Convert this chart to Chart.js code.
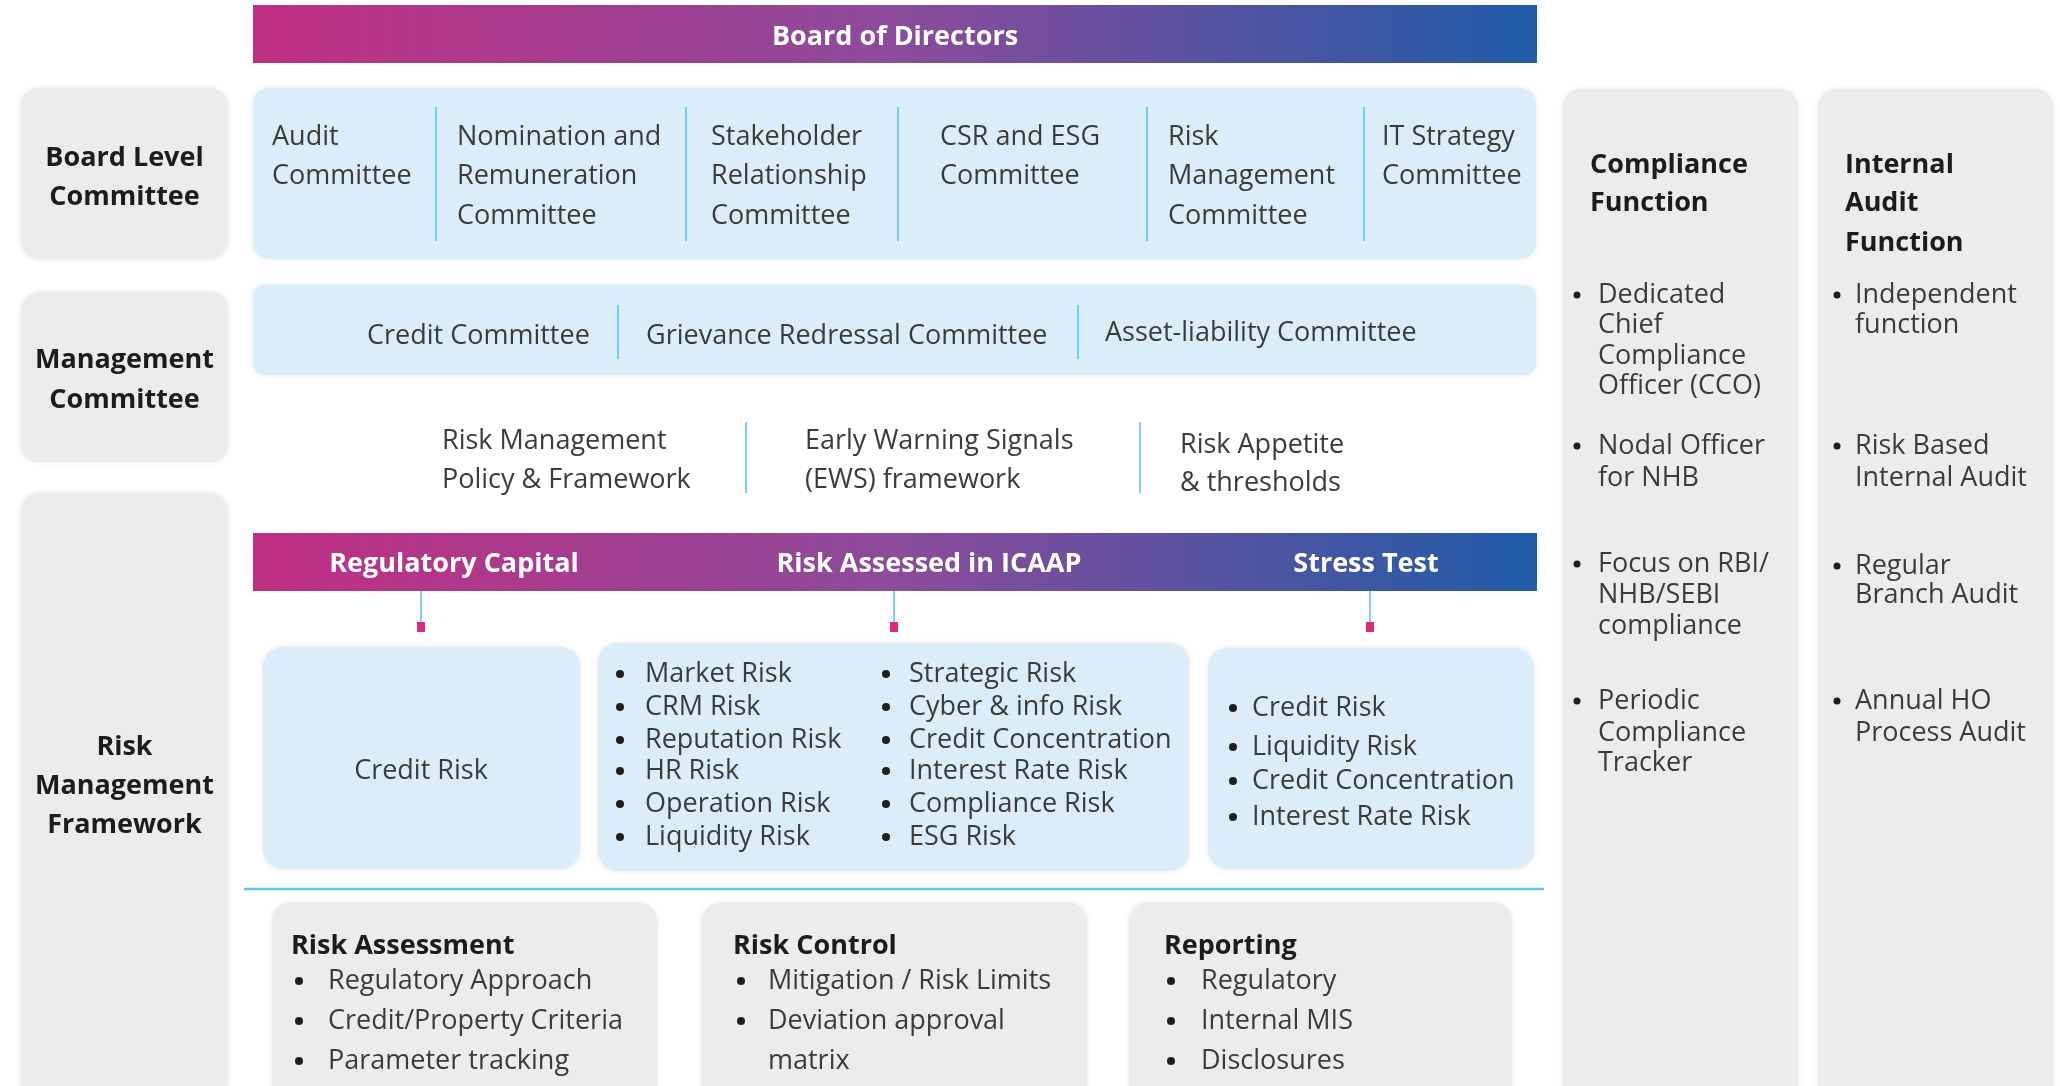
<!DOCTYPE html>
<html>
<head>
<meta charset="utf-8">
<script src="https://cdn.jsdelivr.net/npm/chart.js@4"></script>
<style>
html,body{margin:0;padding:0;background:#fff;}
canvas{display:block;}
</style>
</head>
<body>
<canvas id="c" width="2060" height="1086"></canvas>
<script>
// ---------- DATA (texts) ----------
const topTitle = "Board of Directors";
const leftLabels = [["Board Level","Committee"],["Management","Committee"],["Risk","Management","Framework"]];
const boardCommittees = [["Audit","Committee"],["Nomination and","Remuneration","Committee"],["Stakeholder","Relationship","Committee"],["CSR and ESG","Committee"],["Risk","Management","Committee"],["IT Strategy","Committee"]];
const managementCommittees = ["Credit Committee","Grievance Redressal Committee","Asset-liability Committee"];
const policies = [["Risk Management","Policy & Framework"],["Early Warning Signals","(EWS) framework"],["Risk Appetite","& thresholds"]];
const riskBarLabels = ["Regulatory Capital","Risk Assessed in ICAAP","Stress Test"];
const regulatoryRisks = ["Credit Risk"];
const icaapRisksCol1 = ["Market Risk","CRM Risk","Reputation Risk","HR Risk","Operation Risk","Liquidity Risk"];
const icaapRisksCol2 = ["Strategic Risk","Cyber & info Risk","Credit Concentration","Interest Rate Risk","Compliance Risk","ESG Risk"];
const stressRisks = ["Credit Risk","Liquidity Risk","Credit Concentration","Interest Rate Risk"];
const bottomHeaders = ["Risk Assessment","Risk Control","Reporting"];
const riskAssessment = [["Regulatory Approach"],["Credit/Property Criteria"],["Parameter tracking"]];
const riskControl = [["Mitigation / Risk Limits"],["Deviation approval","matrix"]];
const reporting = [["Regulatory"],["Internal MIS"],["Disclosures"]];
const complianceHeader = ["Compliance","Function"];
const complianceItems = [["Dedicated","Chief","Compliance","Officer (CCO)"],["Nodal Officer","for NHB"],["Focus on RBI/","NHB/SEBI","compliance"],["Periodic","Compliance","Tracker"]];
const auditHeader = ["Internal","Audit","Function"];
const auditItems = [["Independent","function"],["Risk Based","Internal Audit"],["Regular","Branch Audit"],["Annual HO","Process Audit"]];

// ---------- LAYOUT (positions in axis units) ----------
const L = {
  bod:{x0:253,x1:1537,y0:5,y1:63,ty:34},
  left:{x0:21,x1:228,boxes:[[88,259,[155,194]],[292,462,[357,397]],[493,1100,[744,783,822]]]},
  board:{x0:253,x1:1536,y0:88,y1:259,cols:[272,457,711,940,1168,1382],ys:[134,173,213],seps:[436,686,898,1147,1364],sy0:107,sy1:241},
  mgmt:{x0:253,x1:1536,y0:285,y1:375,tx:[367,646,1105],ty:[333,333,330],seps:[618,1078],sy0:305,sy1:359},
  pol:{tx:[442,805,1180],ty:[[438,477],[438,477],[442,480]],seps:[746,1140],sy0:422,sy1:493},
  bar2:{x0:253,x1:1537,y0:533,y1:591,cx:[454,929,1366],ty:561},
  conn:{x:[421,894,1370],y0:591,y1:622,sq:10},
  boxes:[[263,580,647,869],[598,1189,643,871],[1208,1534,648,869]],
  credit:{x:421,y:768},
  icaap:{b1:620,t1:645,b2:886,t2:909,ys:[671,704,737,768,801,834]},
  stress:{b:1233,t:1252,ys:[705,744,778,814]},
  hline:{x0:244,x1:1544,y:889},
  bottom:{y0:903,y1:1110,boxes:[[272,657],[702,1087],[1129,1512]],hx:[291,733,1164],hy:943,bx:[299,741,1171],tx:[328,768,1201],ys:[978,1018,1058]},
  right:{y0:89,y1:1110,boxes:[[1563,1798],[1818,2053]],hx:[1590,1845],hys:[162,200,240],
    comp:{bx:1577,tx:1598,groups:[[292,322,353,383],[443,475],[561,592,623],[698,730,760]]},
    aud:{bx:1837,tx:1855,groups:[[292,322],[443,475],[563,592],[698,730]]}}
};
const TEXT_DY = 3;

const C = {
  text:'#3b3b3b', bold:'#1c1c1c', blueFill:'#dbedf8', grey:'#ececec', sep:'#4fc3f0',
  g0:'#c02f82', g1:'#8c4b9b', g2:'#1f5ba7', magenta:'#e0287a'
};
const FONT = "'Open Sans', 'Noto Sans', sans-serif";

const diagramPlugin = {
  id:'diagram',
  afterDatasetsDraw(chart){
    const ctx = chart.ctx, sx = chart.scales.x, sy = chart.scales.y;
    const X = v => sx.getPixelForValue(v), Y = v => sy.getPixelForValue(v);
    function rrect(x0,y0,x1,y1,r,fill,shadow){
      ctx.save();
      if(shadow){ctx.shadowColor='rgba(0,0,0,0.10)';ctx.shadowBlur=4;}
      ctx.beginPath();
      ctx.roundRect(X(x0),Y(y0),X(x1)-X(x0),Y(y1)-Y(y0),r);
      ctx.fillStyle=fill;ctx.fill();ctx.restore();
    }
    function grad(x0,x1){
      const g = ctx.createLinearGradient(X(x0),0,X(x1),0);
      g.addColorStop(0,C.g0);g.addColorStop(0.5,C.g1);g.addColorStop(1,C.g2);
      return g;
    }
    function vline(x,y0,y1,color,w){
      ctx.save();ctx.strokeStyle=color;ctx.lineWidth=w||1.5;
      ctx.beginPath();ctx.moveTo(X(x),Y(y0));ctx.lineTo(X(x),Y(y1));ctx.stroke();ctx.restore();
    }
    function text(s,x,y,opt){
      opt=opt||{};
      ctx.save();
      ctx.font=(opt.bold?'bold ':'')+(opt.size||27)+'px '+FONT;
      ctx.fillStyle=opt.color||C.text;
      ctx.textAlign=opt.align||'left';
      ctx.textBaseline='middle';
      ctx.fillText(s,X(x),Y(y+TEXT_DY));
      ctx.restore();
    }
    function dot(x,y,r){
      ctx.save();ctx.fillStyle='#1e1e1e';ctx.beginPath();ctx.arc(X(x),Y(y+TEXT_DY),r||4,0,Math.PI*2);ctx.fill();ctx.restore();
    }

    // Board of Directors bar
    ctx.fillStyle=grad(L.bod.x0,L.bod.x1);
    ctx.fillRect(X(L.bod.x0),Y(L.bod.y0),X(L.bod.x1)-X(L.bod.x0),Y(L.bod.y1)-Y(L.bod.y0));
    text(topTitle,(L.bod.x0+L.bod.x1)/2,L.bod.ty,{bold:true,color:'#fff',align:'center'});

    // left label boxes
    const lcx=(L.left.x0+L.left.x1)/2;
    L.left.boxes.forEach((b,i)=>{
      rrect(L.left.x0,b[0],L.left.x1,b[1],18,C.grey,true);
      leftLabels[i].forEach((s,j)=>text(s,lcx,b[2][j],{bold:true,color:C.bold,align:'center'}));
    });

    // board committees
    rrect(L.board.x0,L.board.y0,L.board.x1,L.board.y1,16,C.blueFill,true);
    boardCommittees.forEach((lines,i)=>lines.forEach((s,j)=>text(s,L.board.cols[i],L.board.ys[j])));
    L.board.seps.forEach(x=>vline(x,L.board.sy0,L.board.sy1,C.sep));

    // management committees
    rrect(L.mgmt.x0,L.mgmt.y0,L.mgmt.x1,L.mgmt.y1,12,C.blueFill,true);
    managementCommittees.forEach((s,i)=>text(s,L.mgmt.tx[i],L.mgmt.ty[i]));
    L.mgmt.seps.forEach(x=>vline(x,L.mgmt.sy0,L.mgmt.sy1,C.sep));

    // policies
    policies.forEach((lines,i)=>lines.forEach((s,j)=>text(s,L.pol.tx[i],L.pol.ty[i][j])));
    L.pol.seps.forEach(x=>vline(x,L.pol.sy0,L.pol.sy1,C.sep));

    // risk bar
    ctx.fillStyle=grad(L.bar2.x0,L.bar2.x1);
    ctx.fillRect(X(L.bar2.x0),Y(L.bar2.y0),X(L.bar2.x1)-X(L.bar2.x0),Y(L.bar2.y1)-Y(L.bar2.y0));
    riskBarLabels.forEach((s,i)=>text(s,L.bar2.cx[i],L.bar2.ty,{bold:true,color:'#fff',align:'center'}));

    // connectors
    L.conn.x.forEach(x=>{
      vline(x,L.conn.y0,L.conn.y1,C.sep,1.5);
      ctx.fillStyle=C.magenta;
      ctx.fillRect(X(x)-4,Y(L.conn.y1),8,L.conn.sq);
    });

    // risk boxes
    L.boxes.forEach(b=>rrect(b[0],b[2],b[1],b[3],20,C.blueFill,true));
    regulatoryRisks.forEach(s=>text(s,L.credit.x,L.credit.y,{align:'center'}));
    icaapRisksCol1.forEach((s,i)=>{dot(L.icaap.b1,L.icaap.ys[i]);text(s,L.icaap.t1,L.icaap.ys[i]);});
    icaapRisksCol2.forEach((s,i)=>{dot(L.icaap.b2,L.icaap.ys[i]);text(s,L.icaap.t2,L.icaap.ys[i]);});
    stressRisks.forEach((s,i)=>{dot(L.stress.b,L.stress.ys[i]);text(s,L.stress.t,L.stress.ys[i]);});

    // horizontal line
    ctx.save();ctx.strokeStyle='#5cc6ee';ctx.lineWidth=2.5;ctx.beginPath();
    ctx.moveTo(X(L.hline.x0),Y(L.hline.y));ctx.lineTo(X(L.hline.x1),Y(L.hline.y));ctx.stroke();ctx.restore();

    // bottom boxes
    const groups=[riskAssessment,riskControl,reporting];
    L.bottom.boxes.forEach((b,i)=>{
      rrect(b[0],L.bottom.y0,b[1],L.bottom.y1,18,C.grey,true);
      text(bottomHeaders[i],L.bottom.hx[i],L.bottom.hy,{bold:true,color:C.bold});
      let k=0;
      groups[i].forEach(item=>{
        item.forEach((s,j)=>{
          if(j===0) dot(L.bottom.bx[i],L.bottom.ys[k]);
          text(s,L.bottom.tx[i],L.bottom.ys[k]);
          k++;
        });
      });
    });

    // right columns
    L.right.boxes.forEach(b=>rrect(b[0],L.right.y0,b[1],L.right.y1,18,C.grey,true));
    complianceHeader.forEach((s,j)=>text(s,L.right.hx[0],L.right.hys[j],{bold:true,color:C.bold}));
    auditHeader.forEach((s,j)=>text(s,L.right.hx[1],L.right.hys[j],{bold:true,color:C.bold}));
    complianceItems.forEach((item,i)=>item.forEach((s,j)=>{
      const y=L.right.comp.groups[i][j];
      if(j===0) dot(L.right.comp.bx,y,3.5);
      text(s,L.right.comp.tx,y);
    }));
    auditItems.forEach((item,i)=>item.forEach((s,j)=>{
      const y=L.right.aud.groups[i][j];
      if(j===0) dot(L.right.aud.bx,y,3.5);
      text(s,L.right.aud.tx,y);
    }));
  }
};

new Chart(document.getElementById('c'),{
  type:'scatter',
  data:{datasets:[{data:[],pointRadius:0}]},
  options:{
    responsive:false,animation:false,devicePixelRatio:1,
    layout:{padding:0},
    plugins:{legend:{display:false},tooltip:{enabled:false}},
    scales:{
      x:{type:'linear',min:0,max:2060,display:false},
      y:{type:'linear',min:0,max:1086,reverse:true,display:false}
    }
  },
  plugins:[diagramPlugin]
});
</script>
</body>
</html>
